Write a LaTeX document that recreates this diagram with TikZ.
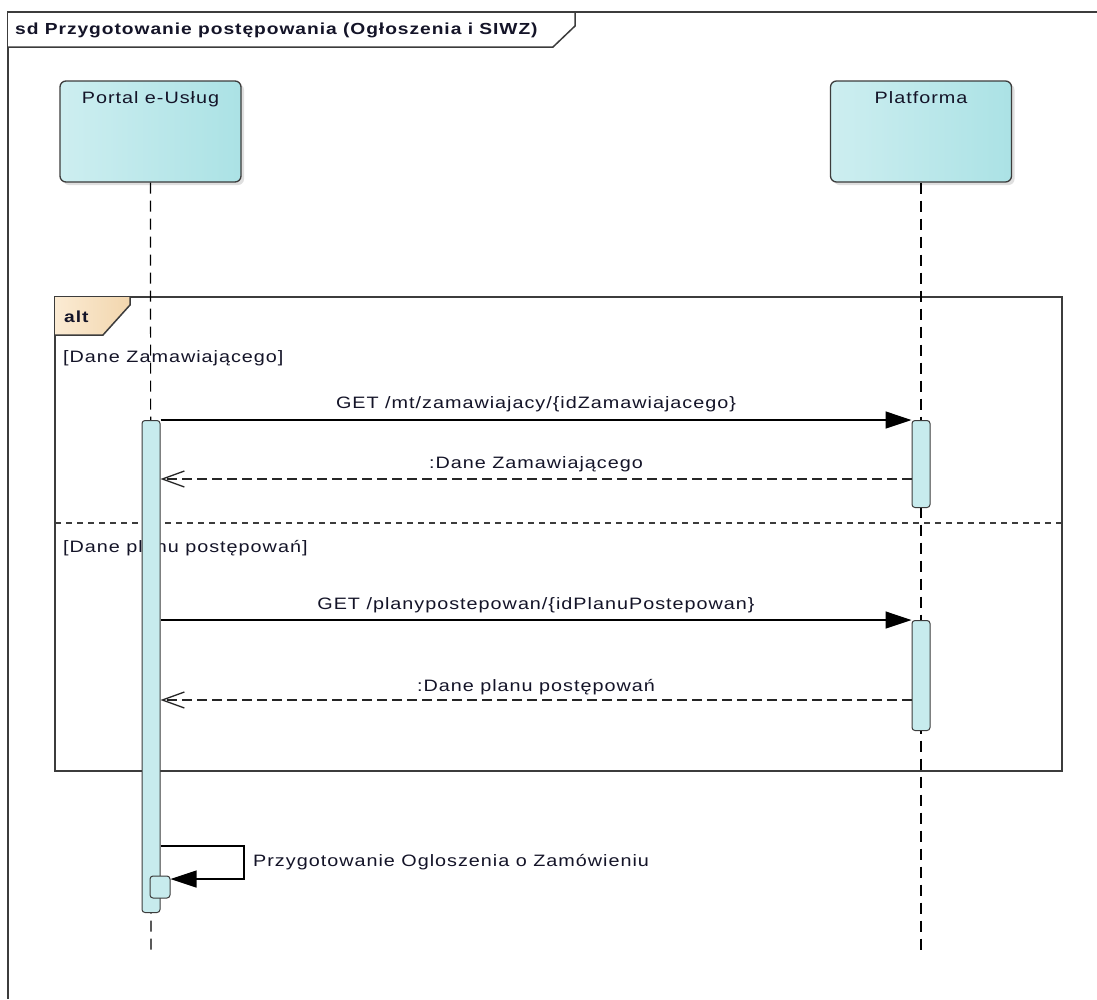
\documentclass[tikz,border=0pt]{standalone}
\usepackage{fontspec}
\setmainfont{Liberation Sans}[FakeStretch=1.2, LetterSpace=6]
\usetikzlibrary{arrows.meta,shadows}
\definecolor{lifeL}{HTML}{CDEEF0}
\definecolor{lifeR}{HTML}{ABE2E5}
\definecolor{actc}{HTML}{C7EBED}
\definecolor{altL}{HTML}{FBEBD3}
\definecolor{altR}{HTML}{F2D6AE}
\definecolor{edge}{HTML}{3C3C3C}
\definecolor{txtc}{HTML}{141428}
\begin{document}
\begin{tikzpicture}[x=1pt,y=-1pt,
  font=\fontsize{16.5}{19}\selectfont,
  lbl/.style={text=txtc, inner sep=0pt},
  lifebox/.style={draw=edge, line width=1.3pt, rounded corners=6pt, left color=lifeL, right color=lifeR,
    minimum width=181pt, minimum height=101pt, inner sep=0pt,
    drop shadow={shadow xshift=3pt, shadow yshift=-3pt, opacity=0.25}},
  act/.style={draw=edge, line width=1pt, fill=actc, rounded corners=3pt, minimum width=18pt, inner sep=0pt},
  lifeline/.style={draw=black, line width=1.2pt, dash pattern=on 11pt off 7pt},
  frameline/.style={draw=edge, line width=1.5pt},
  msg/.style={draw=black, line width=1.3pt, -{Triangle[length=26pt,width=17pt]}},
  reply/.style={draw=black!85, line width=1.3pt, dash pattern=on 10pt off 5pt, -{Straight Barb[length=22pt,width=16pt]}}
]
\useasboundingbox (0,0) rectangle (1097,999);
\fill[white] (0,0) rectangle (1097,999);

% outer frame
\draw[frameline] (1097,12) -- (8,12) -- (8,999);
\draw[frameline, fill=white] (8,12) -- (575,12) -- (575,26) -- (553,47) -- (8,47);
\node[lbl, anchor=west, font=\fontsize{16}{19}\selectfont\bfseries] (title) at (15,30) {sd Przygotowanie postępowania (Ogłoszenia i SIWZ)};

% alt fragment
\draw[frameline] (55,297) rectangle (1062,771);
\shade[left color=altL, right color=altR] (55,297) -- (130,297) -- (130,305) -- (103,335) -- (55,335) -- cycle;
\draw[frameline] (130,297) -- (130,305) -- (103,335) -- (55,335);
\node[lbl, anchor=west, font=\fontsize{16}{19}\selectfont\bfseries] (alt) at (64,317) {alt};
\node[lbl, anchor=west] (g1) at (63,358) {[Dane Zamawiającego]};
\node[lbl, anchor=west] (g2) at (63,548) {[Dane planu postępowań]};
\draw[draw=edge, line width=1.2pt, dash pattern=on 6pt off 5pt] (55,523) -- (1062,523);

% lifelines
\node[lifebox] (portal) at (150.5,131.5) {};
\node[lbl, anchor=north] (portalT) at ([yshift=-11pt]portal.north) {Portal e-Usług};
\node[lifebox] (platf) at (921,131.5) {};
\node[lbl, anchor=north] (platfT) at ([yshift=-11pt]platf.north) {Platforma};
\coordinate (pend) at (151,955);
\coordinate (fend) at (921,955);
\draw[lifeline] (portal.south) -- (pend);
\draw[lifeline] (platf.south) -- (fend);

% activations
\node[act, anchor=north, minimum height=492pt] (pact) at (151,420) {};
\node[act, anchor=north, minimum height=87pt] (fact1) at (921,420) {};
\node[act, anchor=north, minimum height=110pt] (fact2) at (921,620) {};
\node[act, minimum width=20pt, minimum height=22pt] (sact) at (160,887) {};

% messages
\coordinate (m2) at (0,479);
\coordinate (m4) at (0,700);
\draw[msg] (pact.north east) -- (fact1.north west)
  node[lbl, midway, anchor=base, yshift=11.5pt] (l1) {GET /mt/zamawiajacy/\{idZamawiajacego\}};
\draw[reply] (fact1.west |- m2) -- (pact.east |- m2)
  node[lbl, midway, anchor=base, yshift=10.5pt] (l2) {:Dane Zamawiającego};
\draw[msg] (pact.east |- fact2.north) -- (fact2.north west)
  node[lbl, midway, anchor=base, yshift=11pt] (l3) {GET /planypostepowan/\{idPlanuPostepowan\}};
\draw[reply] (fact2.west |- m4) -- (pact.east |- m4)
  node[lbl, midway, anchor=base, yshift=9pt] (l4) {:Dane planu postępowań};

% self message
\coordinate (sA) at (244,846);
\coordinate (sB) at (244,879);
\draw[msg] (pact.east |- sA) -- (sA) -- (sB) -- (sact.east |- sB);
\node[lbl, anchor=west] (l5) at (253,862) {Przygotowanie Ogloszenia o Zamówieniu};
\end{tikzpicture}
\end{document}
